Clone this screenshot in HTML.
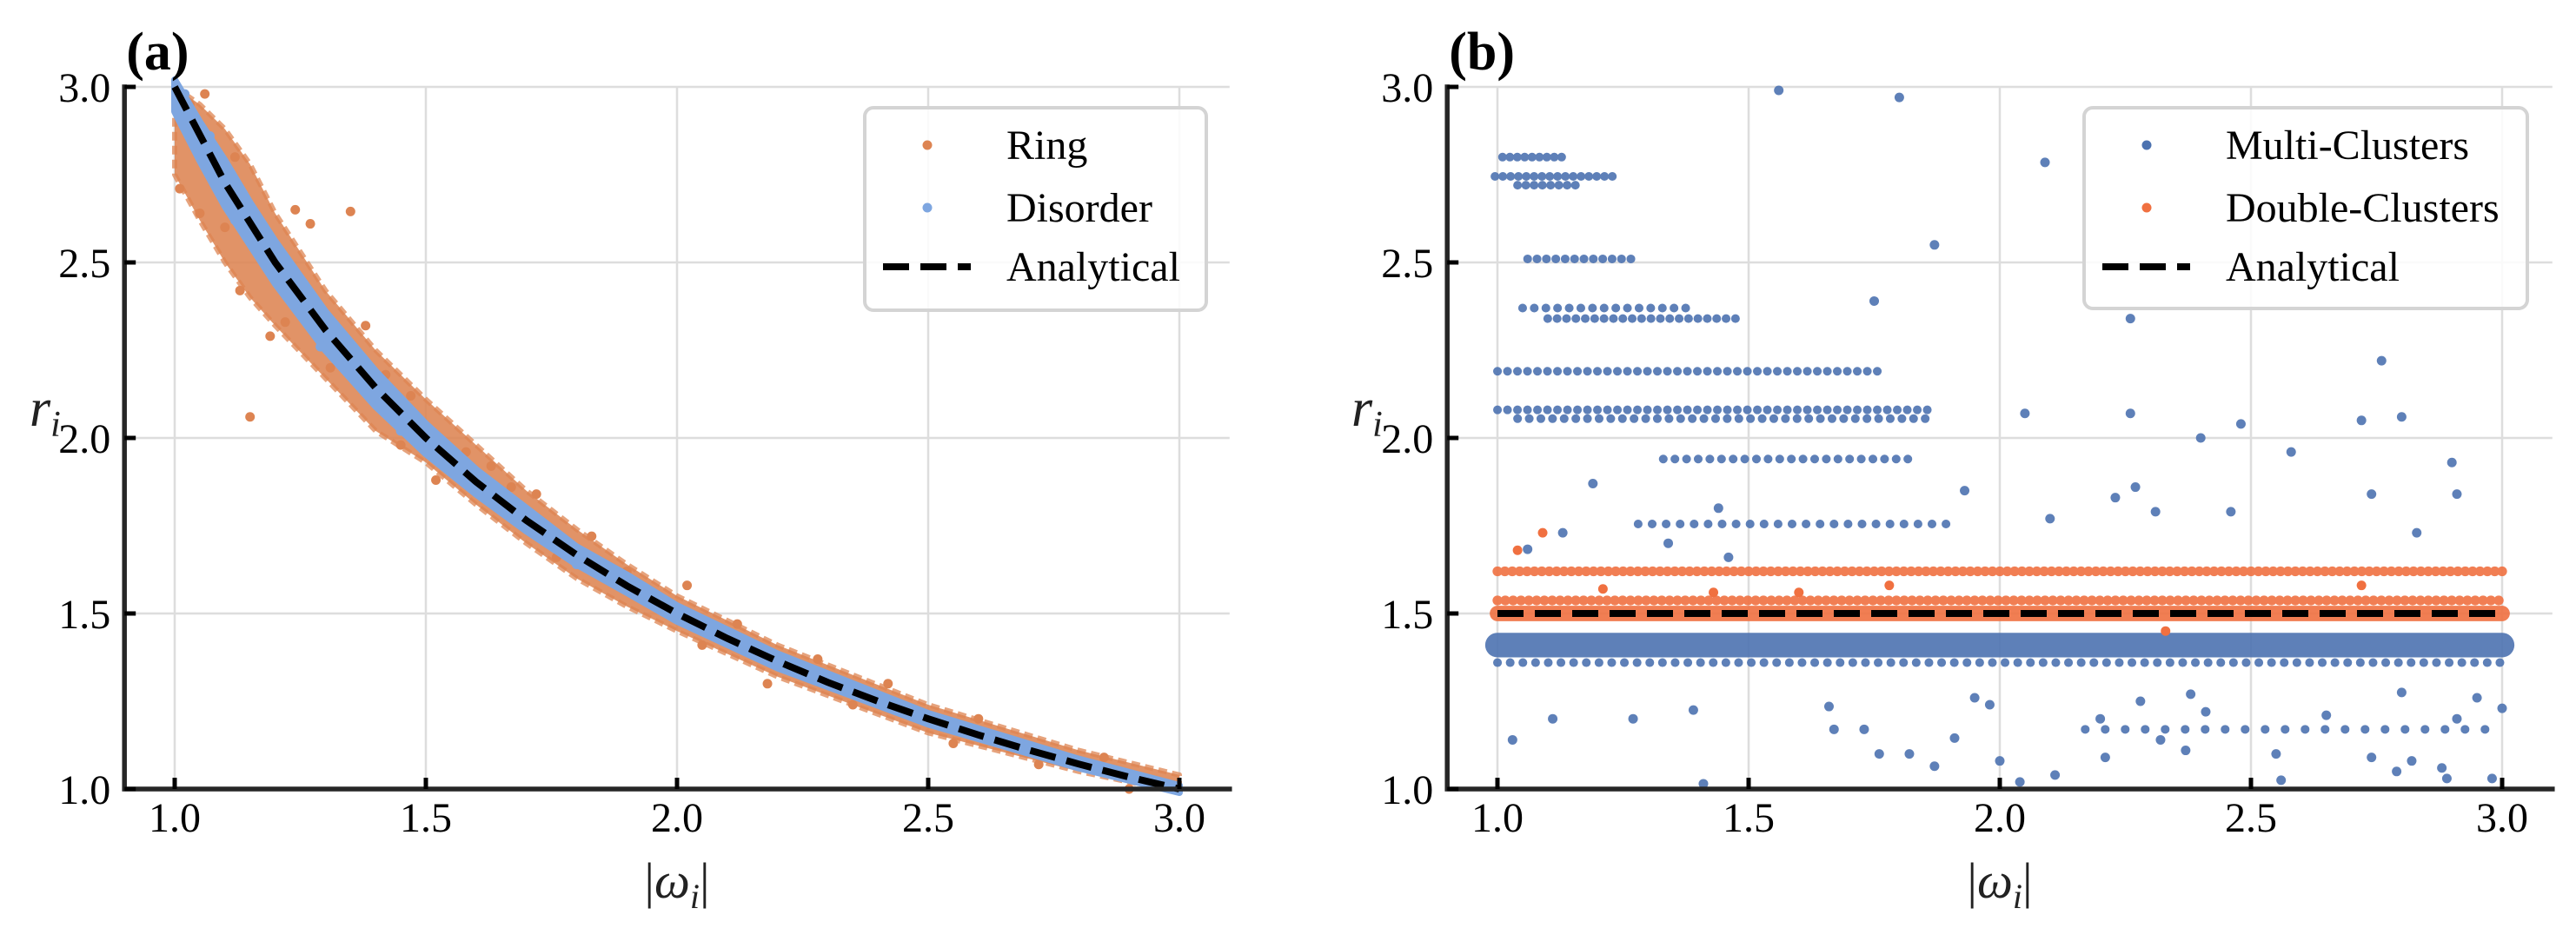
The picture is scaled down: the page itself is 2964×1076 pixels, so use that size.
<!DOCTYPE html>
<html><head><meta charset="utf-8"><style>
html,body{margin:0;padding:0;background:#fff;}
svg{display:block;font-family:"Liberation Serif",serif;}
</style></head><body>
<svg id="fig" width="2964" height="1076" viewBox="0 0 2964 1076" xmlns="http://www.w3.org/2000/svg">
<g id="pa"></g>
<g id="pb"></g>
</svg>
<script>
// ---------- shared axis data ----------
const xTicks = [1.0, 1.5, 2.0, 2.5, 3.0];
const yTicks = [1.0, 1.5, 2.0, 2.5, 3.0];
const xTickLabels = ["1.0", "1.5", "2.0", "2.5", "3.0"];
const yTickLabels = ["1.0", "1.5", "2.0", "2.5", "3.0"];

// ---------- panel (a) data ----------
const analyticalX = [1.0,1.1,1.2,1.3,1.4,1.5,1.6,1.7,1.8,1.9,2.0,2.1,2.2,2.3,2.4,2.5,2.6,2.7,2.8,2.9,3.0];
const analyticalY = [3.0,2.727,2.5,2.308,2.143,2.0,1.875,1.765,1.667,1.579,1.5,1.429,1.364,1.304,1.25,1.2,1.154,1.111,1.071,1.034,1.0];
const bandX = [1.0,1.05,1.1,1.15,1.2,1.3,1.4,1.5,1.6,1.7,1.8,1.9,2.0,2.2,2.5,2.8,3.0];
const ringLo = [2.75,2.62,2.5,2.4,2.32,2.17,2.02,1.93,1.81,1.7,1.6,1.52,1.45,1.32,1.16,1.05,0.99];
const ringHi = [3.0,2.95,2.88,2.78,2.64,2.42,2.25,2.11,1.98,1.85,1.74,1.64,1.55,1.41,1.24,1.11,1.04];
const disLo = [2.93,2.79,2.66,2.55,2.44,2.25,2.09,1.955,1.84,1.735,1.64,1.56,1.478,1.345,1.185,1.06,0.99];
const disHi = [3.02,2.9,2.79,2.67,2.56,2.36,2.19,2.04,1.91,1.8,1.69,1.61,1.522,1.385,1.215,1.085,1.01];
const ringPtsX = [1.01,1.35,1.27,1.05,1.13,1.19,1.15,1.08,1.22,1.31,1.42,1.47,1.58,1.63,1.72,1.83,1.9,1.95,2.05,2.12,2.28,2.35,2.47,2.6,2.72,2.85,2.95,1.03,1.1,1.24,1.38,1.52,1.67,1.76,2.02,2.18,2.42,2.55,2.9,1.45,1.12,1.06];
const ringPtsY = [2.71,2.645,2.61,2.64,2.42,2.29,2.06,2.78,2.33,2.2,2.18,2.12,1.96,1.92,1.84,1.72,1.62,1.55,1.41,1.47,1.37,1.24,1.22,1.2,1.07,1.09,1.02,2.95,2.6,2.65,2.32,1.88,1.86,1.66,1.58,1.3,1.3,1.13,1.0,1.98,2.8,2.98];
const disPtsX = [1.02,1.07,1.12,1.18,1.25,1.33,1.41,1.5,1.6,1.7,1.8,1.9,2.1,2.3,2.5,2.7,2.9,1.15,1.29,1.45];
const disPtsY = [2.98,2.86,2.62,2.58,2.36,2.3,2.1,2.03,1.9,1.74,1.64,1.6,1.43,1.31,1.2,1.12,1.04,2.66,2.26,2.02];

// ---------- panel (b) data ----------
const blueBandLevel = [2.80,2.745,2.72,2.51,2.37,2.34,2.19,2.08,2.055,1.94,1.755,1.41,1.36,1.17];
const blueBandStart = [1.01,0.995,1.04,1.06,1.05,1.10,1.0,1.0,1.04,1.33,1.28,1.0,1.0,2.17];
const blueBandEnd   = [1.14,1.23,1.16,1.28,1.38,1.48,1.76,1.87,1.87,1.82,1.90,3.0,3.0,3.0];
const blueBandHalf  = [0.012,0.012,0.01,0.01,0.01,0.012,0.012,0.012,0.01,0.01,0.01,0.035,0.012,0.01];
const blueBandFill  = [0.95,0.9,0.85,0.75,0.6,0.75,0.7,0.7,0.6,0.6,0.5,1,0.55,0.35];
const orangeBandLevel = [1.62,1.537,1.50];
const orangeBandStart = [1.0,1.0,1.0];
const orangeBandEnd   = [3.0,3.0,3.0];
const orangeBandHalf  = [0.014,0.014,0.022];
const orangeBandFill  = [0.95,0.9,1];
const multiPtsX = [1.56,1.80,2.09,1.87,1.75,2.26,2.76,2.80,2.05,2.26,2.48,2.40,2.72,2.90,2.91,2.58,2.74,2.46,2.23,2.27,2.31,1.19,1.44,2.10,1.93,1.06,1.13,1.34,1.46,2.83,1.11,1.27,1.39,1.03,1.66,1.73,1.76,1.82,1.87,1.91,1.95,2.00,2.04,2.11,2.21,2.32,2.37,2.55,2.56,2.74,2.79,2.82,2.88,2.89,2.98,3.0,2.95,2.80,2.38,2.28,1.98,1.67,1.41,2.65,2.91,2.41,2.20];
const multiPtsY = [2.99,2.97,2.785,2.55,2.39,2.34,2.22,2.06,2.07,2.07,2.04,2.0,2.05,1.93,1.84,1.96,1.84,1.79,1.83,1.86,1.79,1.87,1.80,1.77,1.85,1.683,1.73,1.70,1.66,1.73,1.20,1.20,1.225,1.14,1.235,1.17,1.10,1.10,1.065,1.145,1.26,1.08,1.02,1.04,1.09,1.14,1.11,1.10,1.025,1.09,1.05,1.08,1.06,1.03,1.03,1.23,1.26,1.275,1.27,1.25,1.24,1.17,1.015,1.21,1.20,1.22,1.20];
const doublePtsX = [1.04,1.09,1.21,1.43,1.78,2.72,2.33,1.6];
const doublePtsY = [1.68,1.73,1.57,1.56,1.58,1.58,1.45,1.56];

// ---------- legends ----------
const legendA = ["Ring","Disorder","Analytical"];
const legendB = ["Multi-Clusters","Double-Clusters","Analytical"];

const NS = "http://www.w3.org/2000/svg";
function mk(parent, tag, attrs, text){
  const e = document.createElementNS(NS, tag);
  for (const k in attrs) e.setAttribute(k, attrs[k]);
  if (text !== undefined) e.textContent = text;
  parent.appendChild(e);
  return e;
}
const Y0 = 908, Y1 = 100;
function makeAxes(x0px){
  return {
    sx: v => x0px + (v - 1.0) * 578,
    sy: v => Y0 - (v - 1.0) * (Y0 - Y1) / 2,
    left: x0px - 57.8, right: x0px + 2.1 * 578
  };
}

function drawFrame(g, ax){
  xTicks.forEach((t,i)=>{
    const l = mk(g,'line',{x1:ax.sx(t),x2:ax.sx(t),y1:Y1,y2:Y0,stroke:'#dddddd','stroke-width':2.5});
    
    
  });
  yTicks.forEach((t,i)=>{
    const l = mk(g,'line',{x1:ax.left,x2:ax.right,y1:ax.sy(t),y2:ax.sy(t),stroke:'#dddddd','stroke-width':2.5});
    
    
  });
}
function drawSpines(g, ax, label, ylabX){
  const sp = mk(g,'path',{d:`M${ax.left} ${Y1} L${ax.left} ${Y0} L${ax.right} ${Y0}`,fill:'none',stroke:'#262626','stroke-width':5.5,'stroke-linecap':'square'});
  
  
  xTicks.forEach((t,i)=>{
    const tk = mk(g,'line',{x1:ax.sx(t),x2:ax.sx(t),y1:Y0,y2:Y0-13,stroke:'#000','stroke-width':5});
    
    
    const tl = mk(g,'text',{x:ax.sx(t),y:957,'text-anchor':'middle','font-size':48,fill:'#000'},xTickLabels[i]);
    
    
  });
  yTicks.forEach((t,i)=>{
    const tk = mk(g,'line',{x1:ax.left,x2:ax.left+13,y1:ax.sy(t),y2:ax.sy(t),stroke:'#000','stroke-width':5});
    
    
    const tl = mk(g,'text',{x:ax.left-16,y:ax.sy(t)+17,'text-anchor':'end','font-size':48,fill:'#000'},yTickLabels[i]);
    
    
  });
  const pl = mk(g,'text',{x:ax.left+2,y:80,'font-size':62,'font-weight':'bold',fill:'#000'},label);
  
  
  const xl = mk(g,'text',{x:(ax.left+ax.right)/2,y:1033,'text-anchor':'middle','font-size':58,fill:'#222'});
  
  
  xl.innerHTML = '|<tspan font-style="italic">ω</tspan><tspan font-style="italic" font-size="40" dy="12">i</tspan><tspan dy="-12">|</tspan>';
  const yl = mk(g,'text',{x:ylabX,y:490,'font-size':62,fill:'#222','font-style':'italic'});
  
  
  yl.innerHTML = 'r<tspan font-size="42" dy="12">i</tspan>';
}
function bandPath(ax, xs, lo, hi){
  let d = '';
  xs.forEach((x,i)=>{ d += (i?'L':'M') + ax.sx(x) + ' ' + ax.sy(hi[i]) + ' '; });
  for (let i = xs.length-1; i>=0; i--) d += 'L' + ax.sx(xs[i]) + ' ' + ax.sy(lo[i]) + ' ';
  return d + 'Z';
}
function legend(g, x, y, w, h, labels, kinds, colors){
  const box = mk(g,'rect',{x:x,y:y,width:w,height:h,rx:10,fill:'#fff','fill-opacity':0.85,stroke:'#d4d4d4','stroke-width':4});
  
  
  const rows = [y+43, y+115, y+183];
  labels.forEach((lab,i)=>{
    const eg = mk(g,'g',{});
    
    
    if (kinds[i]==='dot') mk(eg,'circle',{cx:x+72,cy:rows[i],r:5.5,fill:colors[i]});
    else mk(eg,'line',{x1:x+21,x2:x+122,y1:rows[i],y2:rows[i],stroke:'#000','stroke-width':8,'stroke-dasharray':'30 13'});
    mk(eg,'text',{x:x+163,y:rows[i]+16,'font-size':48,fill:'#000'},lab);
  });
}

// ---------- Panel A ----------
(function(){
  const g = document.getElementById('pa');
  const ax = makeAxes(201);
  drawFrame(g, ax);
  const cs = mk(g,'g',{});
  
  
  const rb = mk(cs,'path',{d:bandPath(ax,bandX,ringLo,ringHi),fill:'#dd8452','fill-opacity':0.88,stroke:'#dd8452','stroke-opacity':0.75,'stroke-width':6,'stroke-linejoin':'round','stroke-dasharray':'10 6'});
  
  
  ringPtsX.forEach((x,i)=>{
    const c = mk(cs,'circle',{cx:ax.sx(x),cy:ax.sy(ringPtsY[i]),r:5.5,fill:'#dd8452'});
    
    
  });
  const ds = mk(g,'g',{});
  
  
  const db = mk(ds,'path',{d:bandPath(ax,bandX,disLo,disHi),fill:'#7ea6e0',stroke:'#7ea6e0','stroke-width':8,'stroke-linejoin':'round'});
  
  
  disPtsX.forEach((x,i)=>{
    const c = mk(ds,'circle',{cx:ax.sx(x),cy:ax.sy(disPtsY[i]),r:5.5,fill:'#7ea6e0'});
    
    
  });
  let d='';
  analyticalX.forEach((x,i)=>{ d += (i?'L':'M') + ax.sx(x) + ' ' + ax.sy(analyticalY[i]) + ' '; });
  const an = mk(g,'path',{d:d,fill:'none',stroke:'#000','stroke-width':8,'stroke-dasharray':'30 13'});
  
  
  drawSpines(g, ax, '(a)', 34);
  legend(g, 995, 124, 393, 233, legendA, ['dot','dot','line'], ['#dd8452','#7ea6e0','#000']);
})();

// ---------- Panel B ----------
(function(){
  const g = document.getElementById('pb');
  const ax = makeAxes(1723);
  drawFrame(g, ax);
  const pxPerUnitY = (Y0 - Y1) / 2;
  function bands(parent, lv, st, en, hf, fl, color, name){
    lv.forEach((l,i)=>{
      const th = Math.max(hf[i]*2*pxPerUnitY, 10);
      const attrs = {x1:ax.sx(st[i]),x2:ax.sx(en[i]),y1:ax.sy(l),y2:ax.sy(l),stroke:color,'stroke-width':th,'stroke-linecap':'round','stroke-opacity':0.9};
      if (fl[i] < 1){ const step = 8 / fl[i]; attrs['stroke-dasharray'] = '0.1 ' + step.toFixed(1); }
      const b = mk(parent,'line',attrs);
      
      
    });
  }
  const ms = mk(g,'g',{});
  
  
  bands(ms, blueBandLevel, blueBandStart, blueBandEnd, blueBandHalf, blueBandFill, '#4c72b0', 'multi-cluster-band');
  multiPtsX.forEach((x,i)=>{
    const c = mk(ms,'circle',{cx:ax.sx(x),cy:ax.sy(multiPtsY[i]),r:5.5,fill:'#4c72b0','fill-opacity':0.9});
    
    
  });
  const os = mk(g,'g',{});
  
  
  bands(os, orangeBandLevel, orangeBandStart, orangeBandEnd, orangeBandHalf, orangeBandFill, '#f07040', 'double-cluster-band');
  doublePtsX.forEach((x,i)=>{
    const c = mk(os,'circle',{cx:ax.sx(x),cy:ax.sy(doublePtsY[i]),r:5.5,fill:'#f07040'});
    
    
  });
  const an = mk(g,'line',{x1:ax.sx(1.0),x2:ax.sx(3.0),y1:ax.sy(1.5),y2:ax.sy(1.5),stroke:'#000','stroke-width':8,'stroke-dasharray':'30 13'});
  
  
  drawSpines(g, ax, '(b)', 1555);
  legend(g, 2398, 124, 510, 231, legendB, ['dot','dot','line'], ['#4c72b0','#f07040','#000']);
})();
</script>
</body></html>
